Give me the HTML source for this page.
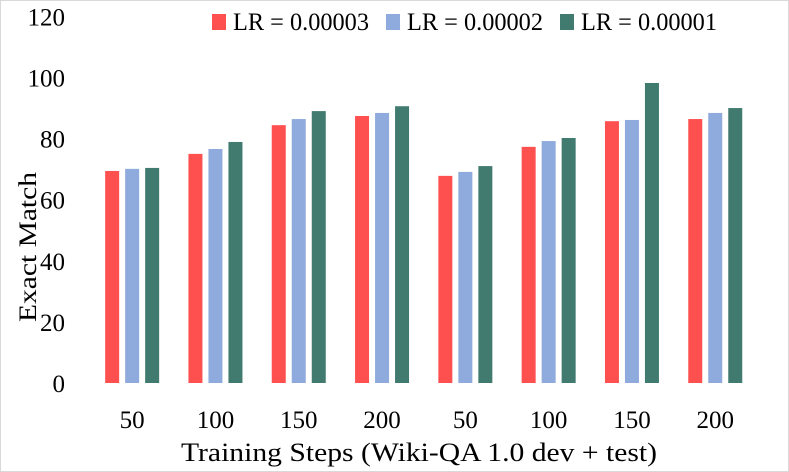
<!DOCTYPE html>
<html><head><meta charset="utf-8"><style>
html,body{margin:0;padding:0;background:#fff}
svg{display:block;font-family:"Liberation Serif",serif}
</style></head><body>
<svg width="789" height="472" viewBox="0 0 789 472">
<rect x="0.5" y="0.5" width="788" height="471" fill="#fff" stroke="#d9d9d9"/>
<g id="yaxis"></g>
<g id="bars"></g>
<g id="xaxis"></g>
<text x="36" y="247" transform="rotate(-90 36 247)" text-anchor="middle" font-size="25" fill="#000" textLength="150" lengthAdjust="spacingAndGlyphs">Exact Match</text>
<text x="419" y="461" text-anchor="middle" font-size="26" fill="#000" textLength="476" lengthAdjust="spacingAndGlyphs">Training Steps (Wiki-QA 1.0 dev + test)</text>
<g id="legend"></g>
</svg>
<script>
const categories=["50","100","150","200","50","100","150","200"];
const seriesNames=["LR = 0.00003","LR = 0.00002","LR = 0.00001"];
const lr3=[69.4,75.0,84.4,87.4,67.8,77.3,85.7,86.4];
const lr2=[70.1,76.6,86.4,88.4,69.1,79.2,86.1,88.4];
const lr1=[70.4,78.9,89.0,90.6,71.0,80.2,98.2,90.0];
const yTicks=[0,20,40,60,80,100,120];
const colors=["#ff5050","#8faadc","#417b70"];
const NS="http://www.w3.org/2000/svg";
const x0=90.5,catW=83.3,y0=383,pxPer=3.055;
function yScale(v){return y0-v*pxPer;}
function xCenter(i){return x0+catW*(i+0.5);}
function mk(t,a,p){const e=document.createElementNS(NS,t);for(const k in a)e.setAttribute(k,a[k]);p.appendChild(e);return e;}
const ya=document.getElementById('yaxis');
yTicks.forEach(v=>{const t=mk('text',{x:65,y:yScale(v)+9,'text-anchor':'end','font-size':25},ya);t.textContent=v;

});
const xa=document.getElementById('xaxis');
categories.forEach((c,i)=>{const t=mk('text',{x:xCenter(i),y:428,'text-anchor':'middle','font-size':25},xa);t.textContent=c;

});
const bg=document.getElementById('bars');
[lr3,lr2,lr1].forEach((s,si)=>{s.forEach((v,i)=>{const cx=xCenter(i)+(si-1)*20;
const r=mk('rect',{x:cx-7,y:yScale(v),width:14,height:v*pxPer,fill:colors[si]},bg);

});});
const lg=document.getElementById('legend');
const lx=[212,386,560];
seriesNames.forEach((n,i)=>{mk('rect',{x:lx[i],y:14,width:14,height:16,fill:colors[i]},lg);
const t=mk('text',{x:lx[i]+21,y:30,'font-size':25,textLength:136,lengthAdjust:'spacingAndGlyphs'},lg);t.textContent=n;

});
</script>
</body></html>
